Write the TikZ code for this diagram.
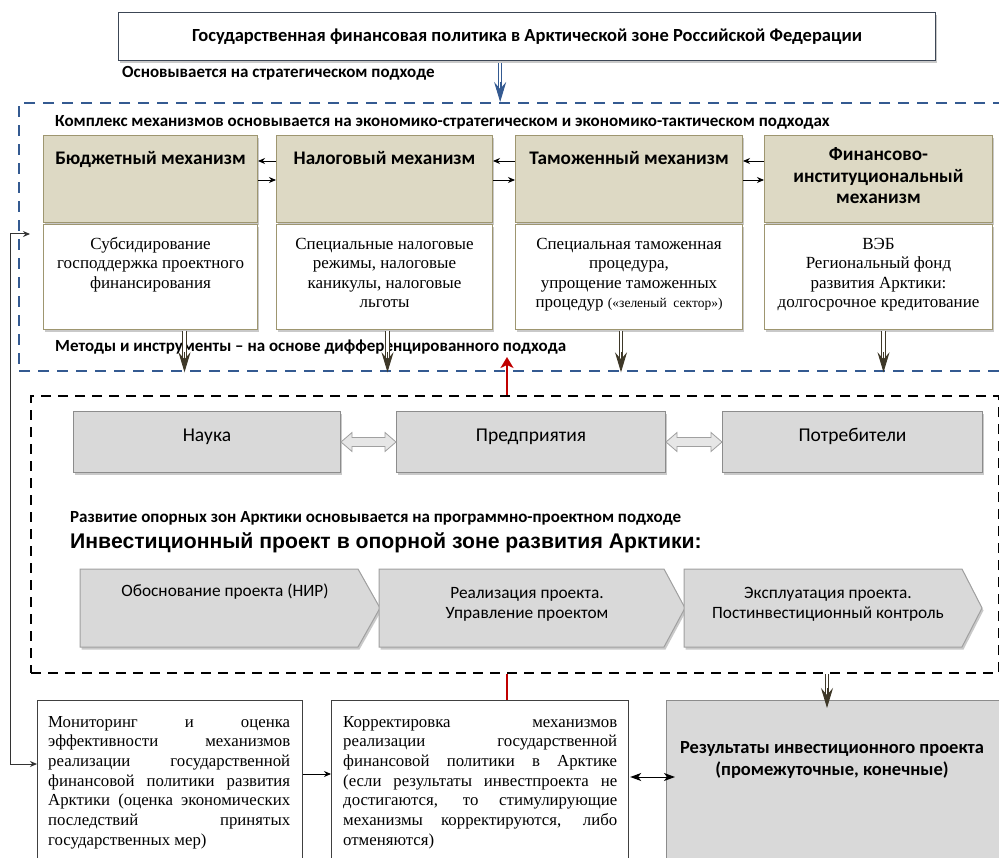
\documentclass[tikz,border=0pt]{standalone}
\usepackage{fontspec}
\setmainfont{Carlito}
\newfontfamily\tnr{Liberation Serif}
\newfontfamily\arl{Liberation Sans}
\usetikzlibrary{arrows.meta,calc,shadows}

\definecolor{dashblue}{RGB}{52,90,145}
\definecolor{tanfill}{RGB}{221,217,196}
\definecolor{tanedge}{RGB}{158,150,112}
\definecolor{boxgray}{RGB}{217,217,217}
\definecolor{grayedge}{RGB}{140,140,140}
\definecolor{darkarrow}{RGB}{62,56,40}
\definecolor{redarrow}{RGB}{192,0,0}
\definecolor{titleedge}{RGB}{60,70,85}
\definecolor{blockfill}{RGB}{230,230,230}
\definecolor{blockedge}{RGB}{160,160,160}

% double-stroke arrow with a feathered head
\newcommand\dblarrow[3]{%
  \draw[#1, line width=0.9pt, double distance=2.4pt, shorten >=14pt] (#2) -- (#3);
  \draw[#1, line width=0.9pt, -{Stealth[length=20pt,width=12pt,inset=7pt]}] ($(#3)!20pt!(#2)$) -- (#3);
}
% hollow two-headed block arrow between two anchors
\newcommand\blockdbl[2]{%
  \filldraw[fill=blockfill, draw=blockedge, line width=0.8pt]
    (#1) -- ++(11,-9.5) -- ++(0,5) -- ($(#2)+(-11,-4.5)$) -- ++(0,-5) -- (#2)
    -- ++(-11,9.5) -- ++(0,-5) -- ($(#1)+(11,4.5)$) -- ++(0,5) -- cycle;
}

\begin{document}
\begin{tikzpicture}[x=1pt,y=-1pt,
  shade/.style={drop shadow={shadow xshift=1.5pt,shadow yshift=-2.5pt,opacity=0.35,fill=black!60}},
  titlebox/.style={draw=titleedge, line width=1.3pt, fill=white, shade, inner sep=0pt},
  titletxt/.style={font=\bfseries\fontsize{18.5}{22}\selectfont, inner sep=0pt},
  note/.style={font=\bfseries\fontsize{17}{20}\selectfont, inner sep=0pt},
  bluezone/.style={draw=dashblue, line width=2.3pt, dash pattern=on 11pt off 8pt, inner sep=0pt},
  blackzone/.style={draw=black, line width=2.3pt, dash pattern=on 10pt off 7pt, inner sep=0pt},
  mhead/.style={draw=tanedge, line width=1pt, fill=tanfill, shade, minimum height=87pt, inner sep=0pt},
  mbody/.style={draw=tanedge, line width=1pt, fill=white, shade, minimum height=105pt, inner sep=0pt},
  htxt/.style={font=\bfseries\fontsize{19.2}{21.5}\selectfont, inner sep=0pt, align=center},
  btxt/.style={font=\tnr\fontsize{17}{19.5}\selectfont, inner sep=0pt, align=center, anchor=north},
  thinarr/.style={draw=black, line width=0.9pt, -{Stealth[length=7pt,width=6pt]}},
  graybox/.style={draw=grayedge, line width=1pt, fill=boxgray, shade, minimum height=61pt,
    inner sep=0pt, text height=8pt, text depth=8pt, font=\fontsize{19.5}{22}\selectfont},
  chev/.style={draw=blockedge, line width=1pt, fill=boxgray, shade},
  ctxt/.style={font=\fontsize{17.3}{20}\selectfont, inner sep=0pt, align=center},
  bigtxt/.style={font=\arl\bfseries\fontsize{21.2}{24}\selectfont, inner sep=0pt},
  wbox/.style={draw=black!75, line width=1.2pt, fill=white, inner sep=0pt},
  resbox/.style={draw=grayedge, line width=1.2pt, fill=boxgray, inner sep=0pt},
  jtxt/.style={font=\tnr\fontsize{16.8}{19.7}\selectfont, inner sep=0pt, align=justify, anchor=north west},
  rtxt/.style={font=\bfseries\fontsize{18.5}{22}\selectfont, inner sep=0pt, align=center, anchor=north},
  fbarr/.style={draw=black!80, line width=1pt, {Stealth[length=7pt,width=6pt]}-{Stealth[length=7pt,width=6pt]}},
  dblhead/.style={draw=black, line width=1pt, {Stealth[length=11pt,width=8pt,inset=3pt]}-{Stealth[length=11pt,width=8pt,inset=3pt]}},
  redline/.style={draw=redarrow, line width=2.6pt}
]
\useasboundingbox (0,0) rectangle (999,858);
\fill[white] (0,0) rectangle (999,858);

% ---- policy title ----
\node[titlebox, anchor=north west, minimum width=817pt, minimum height=48pt] (title) at (118,12) {};
\node[titletxt, anchor=base] (titletext) at (527,42)
  {Государственная финансовая политика в Арктической зоне Российской Федерации};
\node[note, anchor=base west] (strat) at (122,77.5) {Основывается на стратегическом подходе};

% ---- zone of mechanisms ----
\node[bluezone, anchor=north west, minimum width=995pt, minimum height=268pt] (mechzone) at (18,102) {};
\coordinate (tA) at ($(title.south)+(-27,2)$);
\coordinate (tB) at (tA |- mechzone.north);
\dblarrow{dashblue}{tA}{tB}

\node[note, anchor=base west] (complex) at (55,126.5)
  {Комплекс механизмов основывается на экономико-стратегическом и экономико-тактическом подходах};

\node[mhead, minimum width=214pt, anchor=north west] (h1) at (43,135) {};
\node[mbody, minimum width=214pt, anchor=north west] (b1) at (43,224) {};
\node[mhead, minimum width=216pt, anchor=north west] (h2) at (276,135) {};
\node[mbody, minimum width=216pt, anchor=north west] (b2) at (276,224) {};
\node[mhead, minimum width=227pt, anchor=north west] (h3) at (515,135) {};
\node[mbody, minimum width=227pt, anchor=north west] (b3) at (515,224) {};
\node[mhead, minimum width=228pt, anchor=north west] (h4) at (764,135) {};
\node[mbody, minimum width=228pt, anchor=north west] (b4) at (764,224) {};

\node[htxt, anchor=base] (h1t) at ($(h1.north)+(0,29.5)$) {Бюджетный механизм};
\node[htxt, anchor=base] (h2t) at ($(h2.north)+(0,29.5)$) {Налоговый механизм};
\node[htxt, anchor=base] (h3t) at ($(h3.north)+(0,29.5)$) {Таможенный механизм};
\node[htxt, anchor=north] (h4t) at ($(h4.north)+(0,10.5)$) {\strut Финансово-\\институциональный\\механизм};

\node[btxt] (b1t) at ($(b1.north)+(0,11.4)$) {\strut Субсидирование\\господдержка проектного\\финансирования};
\node[btxt] (b2t) at ($(b2.north)+(0,11.4)$) {\strut Специальные налоговые\\режимы, налоговые\\каникулы, налоговые\\льготы};
\node[btxt] (b3t) at ($(b3.north)+(0,11.4)$) {\strut Специальная таможенная\\процедура,\\упрощение таможенных\\процедур {\fontsize{13.5}{14}\selectfont(«зеленый~~сектор»)}};
\node[btxt] (b4t) at ($(b4.north)+(0,11.4)$) {\strut ВЭБ\\Региональный фонд\\развития Арктики:\\долгосрочное кредитование};

% links between neighbouring mechanisms
\draw[thinarr] ($(h2.north west)+(0,26)$) -- ($(h1.north east)+(0,26)$);
\draw[thinarr] ($(h1.north east)+(0,45)$) -- ($(h2.north west)+(0,45)$);
\draw[thinarr] ($(h3.north west)+(0,26)$) -- ($(h2.north east)+(0,26)$);
\draw[thinarr] ($(h2.north east)+(0,45)$) -- ($(h3.north west)+(0,45)$);
\draw[thinarr] ($(h4.north west)+(0,26)$) -- ($(h3.north east)+(0,26)$);
\draw[thinarr] ($(h3.north east)+(0,45)$) -- ($(h4.north west)+(0,45)$);

\node[note, anchor=base west] (methods) at (55,351.5) {Методы и инструменты – на основе дифференцированного подхода};

% outputs of the mechanisms
\coordinate (d1a) at ($(b1.south)+(34,1)$); \coordinate (d1b) at (d1a |- mechzone.south);
\coordinate (d2a) at ($(b2.south)+(3,1)$);  \coordinate (d2b) at (d2a |- mechzone.south);
\coordinate (d3a) at ($(b3.south)+(-8,1)$); \coordinate (d3b) at (d3a |- mechzone.south);
\coordinate (d4a) at ($(b4.south)+(5,1)$);  \coordinate (d4b) at (d4a |- mechzone.south);
\dblarrow{darkarrow}{d1a}{d1b}
\dblarrow{darkarrow}{d2a}{d2b}
\dblarrow{darkarrow}{d3a}{d3b}
\dblarrow{darkarrow}{d4a}{d4b}

% ---- zone of the investment project ----
\node[blackzone, anchor=north west, minimum width=968pt, minimum height=277pt] (projzone) at (30,395) {};
\coordinate (rx) at (507,0);
\coordinate (rtip) at (507,357);
\draw[redline, -{Stealth[length=11pt,width=13pt,inset=3pt]}] (rx |- projzone.north) -- (rtip);

\node[graybox, minimum width=267pt, anchor=north west] (nauka) at (73,411) {Наука};
\node[graybox, minimum width=269pt, anchor=north west] (pred) at (396,411) {Предприятия};
\node[graybox, minimum width=260pt, anchor=north west] (potr) at (722,411) {Потребители};
\blockdbl{nauka.east}{pred.west}
\blockdbl{pred.east}{potr.west}

\node[note, anchor=base west] (devtxt) at (70,522)
  {Развитие опорных зон Арктики основывается на программно-проектном подходе};
\node[bigtxt, anchor=base west] (invtxt) at (70,548.5)
  {Инвестиционный проект в опорной зоне развития Арктики:};

% project stages
\filldraw[chev] (80,569) -- (358,569) -- (380,608) -- (358,647) -- (80,647) -- cycle;
\filldraw[chev] (379,569) -- (664,569) -- (685,608) -- (664,647) -- (379,647) -- cycle;
\filldraw[chev] (684,569) -- (962,569) -- (982,608) -- (962,647) -- (684,647) -- cycle;
\node[ctxt, anchor=base] (c1t) at (225,596) {Обоснование проекта (НИР)};
\node[ctxt, anchor=north] (c2t) at (527,584) {\strut Реализация проекта.\\Управление проектом};
\node[ctxt, anchor=north] (c3t) at (828,584) {\strut Эксплуатация проекта.\\Постинвестиционный контроль};

% ---- monitoring, correction, results ----
\node[wbox, minimum width=265pt, minimum height=180pt, anchor=north west] (mon) at (37,700) {};
\node[wbox, minimum width=297pt, minimum height=180pt, anchor=north west] (corr) at (331,700) {};
\node[resbox, minimum width=340pt, minimum height=180pt, anchor=north west] (res) at (666,700) {};

\node[jtxt, text width=242pt] (mont) at (48,713.2)
  {\tolerance=10000\hbadness=10000\strut Мониторинг и оценка\linebreak эффективности механизмов\linebreak
   реализации государственной\linebreak финансовой политики развития\linebreak
   Арктики (оценка экономических\linebreak последствий принятых\linebreak государственных мер)};
\node[jtxt, text width=274pt] (corrt) at (343,713.2)
  {\tolerance=10000\hbadness=10000\strut Корректировка механизмов\linebreak реализации государственной\linebreak
   финансовой политики в Арктике\linebreak (если результаты инвестпроекта не\linebreak
   достигаются, то стимулирующие\linebreak механизмы корректируются, либо\linebreak отменяются)};
\node[rtxt] (rest) at (832,737.5) {\strut Результаты инвестиционного проекта\\(промежуточные, конечные)};

\draw[thinarr] ($(mon.north east)+(0,74)$) -- ($(corr.north west)+(0,74)$);
\draw[dblhead] ($(corr.north east)+(1,77)$) -- ($(res.north west)+(9,77)$);

\draw[redline] (rx |- projzone.south) -- (rx |- corr.north);

\coordinate (rdx) at (827,0);
\coordinate (rdA) at (rdx |- projzone.south);
\coordinate (rdB) at ($(rdx |- res.north)+(0,8)$);
\dblarrow{darkarrow}{rdA}{rdB}

% feedback from monitoring back to the mechanisms
\coordinate (fbtip) at (30,234);
\coordinate (fbx) at (10,0);
\draw[fbarr] (fbtip) -- (fbtip -| fbx) |- ($(mon.north west)+(0,64)$);
\end{tikzpicture}
\end{document}
